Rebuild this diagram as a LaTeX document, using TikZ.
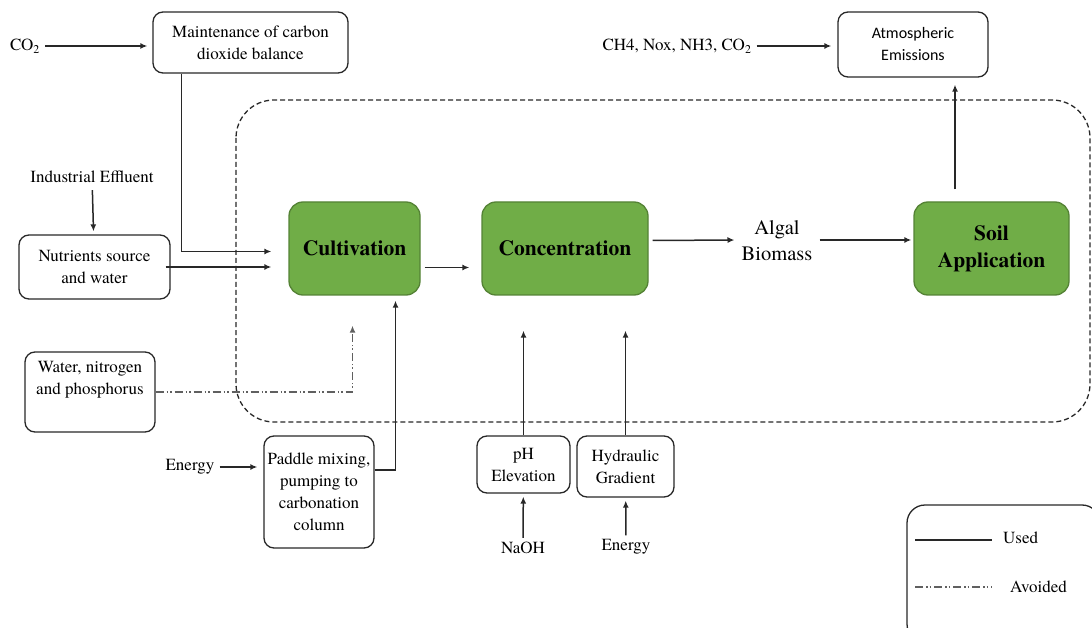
\documentclass[tikz,border=0pt]{standalone}
\usepackage{fontspec}
\setmainfont{texgyretermes}[Extension=.otf, UprightFont=*-regular, BoldFont=*-bold, ItalicFont=*-italic, BoldItalicFont=*-bolditalic]
\newfontfamily\calibrifont{Carlito}
\usepackage{tikz}
\definecolor{stagefill}{RGB}{112,173,71}
\definecolor{stageedge}{RGB}{84,130,53}
\definecolor{linegray}{RGB}{40,40,40}
\usetikzlibrary{
	arrows.meta,
	positioning
}
\tikzset{
	>={Latex[length=7pt,width=6pt]},
	flow/.style={->, line width=1.5pt, linegray},
	avoided/.style={->, line width=1.5pt, gray!75!black, dash pattern=on 8pt off 3pt on 1.5pt off 2pt on 1.5pt off 3pt},
	region/.style={line width=1.3pt, linegray, dash pattern=on 5pt off 3pt, rounded corners=38pt},
	procbox/.style={draw=linegray, line width=1.3pt, rounded corners=10pt, align=center, inner sep=2pt, font=\fontsize{17}{22}\selectfont},
	stagebox/.style={draw=stageedge, fill=stagefill, line width=1.3pt, rounded corners=14pt, align=center, minimum height=93pt, font=\bfseries\fontsize{21.5}{27}\selectfont},
	plaintext/.style={align=center, inner sep=1pt, font=\fontsize{17}{22}\selectfont}
}
\begin{document}
\begin{tikzpicture}[x=1pt, y=-1pt]
	\useasboundingbox (0,0) rectangle (1092,628);
	\draw[region] (236,100) rectangle (1090,422);
	% inputs on the left
	\node[plaintext] (co2) at (25,46) {CO\textsubscript{2}};
	\node[procbox, minimum width=195pt, minimum height=61pt] (maint) at (250.5,42.5) {Maintenance of carbon\\dioxide balance};
	\node[plaintext] (effl) at (92,177) {Industrial Effluent};
	\node[procbox, minimum width=151pt, minimum height=64pt] (nutr) at (94.5,267) {Nutrients source\\and water};
	\node[procbox, minimum width=130pt, minimum height=80pt] (water) at (90,392) {Water, nitrogen\\and phosphorus\\\strut};
	\node[plaintext] (energyA) at (190,467) {Energy};
	\node[procbox, minimum width=110pt, minimum height=112pt] (paddle) at (319,492) {Paddle mixing,\\pumping to\\carbonation\\column};
	% main stages
	\node[stagebox, minimum width=131pt] (cult) at (354.5,248.5) {Cultivation};
	\node[stagebox, minimum width=166pt] (conc) at (565,248.5) {Concentration};
	\node[plaintext, font=\fontsize{20.5}{26}\selectfont] (algal) at (777,241) {Algal\\Biomass};
	\node[stagebox, minimum width=155pt] (soil) at (991.5,248.5) {Soil\\Application};
	% emissions
	\node[plaintext] (gases) at (677,46) {CH4, Nox, NH3, CO\textsubscript{2}};
	\node[procbox, minimum width=150pt, minimum height=65pt, font=\calibrifont\fontsize{16}{22}\selectfont] (atm) at (913,44.5) {Atmospheric\\Emissions};
	% concentration inputs
	\node[procbox, minimum width=93pt, minimum height=57pt] (ph) at (523.5,464.5) {pH\\Elevation};
	\node[procbox, minimum width=97pt, minimum height=61pt] (hyd) at (625.5,466.5) {Hydraulic\\Gradient};
	\node[plaintext] (naoh) at (523,548) {NaOH};
	\node[plaintext] (energyB) at (626,547) {Energy};
	% connectors
	\draw[flow, shorten <=4pt, shorten >=5pt] (co2.east) -- (maint.west |- co2.east);
	\draw[flow, shorten >=17pt] ([xshift=-69pt]maint.south) |- ([yshift=-3pt]cult.west);
	\draw[flow, shorten <=6pt, shorten >=3pt] (effl) -- (nutr);
	\draw[flow, shorten <=-5pt, shorten >=17pt] (nutr.east) -- (cult.west |- nutr.east);
	\draw[avoided, shorten >=30pt] (water.east) -| ([xshift=-2pt]cult.south);
	\draw[flow, shorten <=4pt, shorten >=6pt] (energyA.east) -- (paddle.west |- energyA.east);
	\draw[flow, shorten >=5pt] ([yshift=22pt]paddle.east) -| ([xshift=41pt]cult.south);
	\draw[flow, shorten <=4pt, shorten >=12pt] ([yshift=-19pt]cult.east) -- ([yshift=-19pt]conc.west);
	\draw[flow, shorten <=4pt, shorten >=6pt] ([yshift=8pt]conc.east) -- (algal.west |- 0,240);
	\draw[flow, shorten <=6pt, shorten >=2pt] (algal.east |- 0,240) -- (soil.west |- 0,240);
	\draw[flow, shorten <=12pt, shorten >=7pt] ([xshift=-36.5pt]soil.north) -- ([xshift=42pt]atm.south);
	\draw[flow, shorten <=4pt, shorten >=6pt] (gases.east) -- (atm.west |- gases.east);
	\draw[flow, shorten >=35pt] (ph.north) -- (ph.north |- conc.south);
	\draw[flow, shorten >=35pt] (hyd.north) -- (hyd.north |- conc.south);
	\draw[flow, shorten <=3pt, shorten >=3pt] (naoh) -- (ph);
	\draw[flow, shorten <=3pt, shorten >=3pt] (energyB) -- (hyd);
	% legend
	\draw[line width=1.3pt, linegray, rounded corners=18pt] (907,505) rectangle (1100,642);
	\draw[line width=1.5pt, linegray] (915,540) -- (992,540);
	\node[plaintext, anchor=west] (used) at (1002,538) {Used};
	\draw[avoided, -] (915,587) -- (992,587);
	\node[plaintext, anchor=west] (avoid) at (1009,587) {Avoided};
\end{tikzpicture}
\end{document}
